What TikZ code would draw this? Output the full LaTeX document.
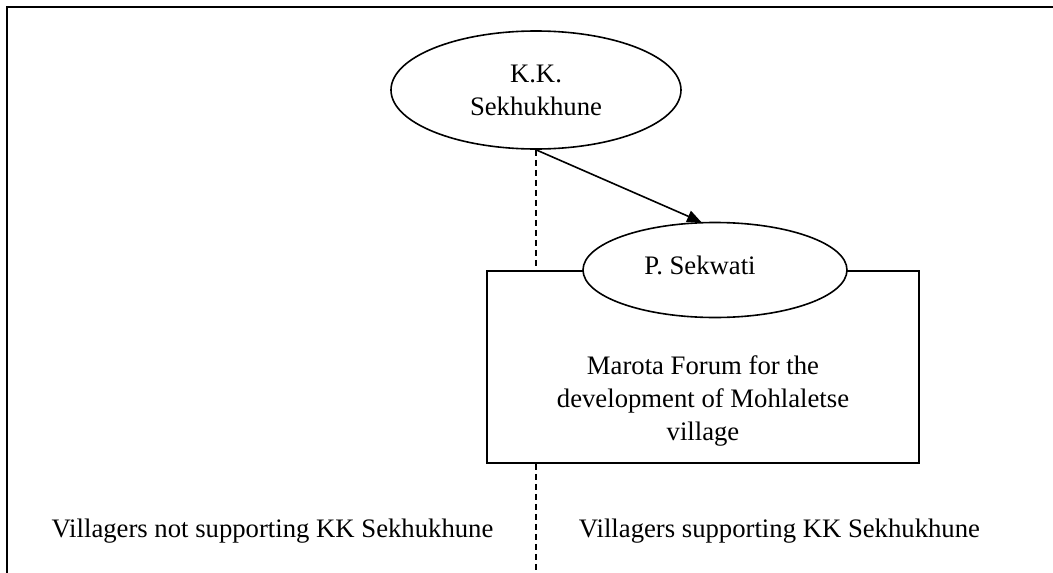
\documentclass[tikz,border=0pt]{standalone}
\usepackage{fontspec}
\setmainfont{Liberation Serif}
\usetikzlibrary{shapes.geometric,arrows.meta}
\begin{document}
\begin{tikzpicture}[x=1pt,y=-1pt,
  every node/.style={font=\fontsize{26.7}{33}\selectfont, align=center, inner sep=0pt},
  oval/.style={ellipse, draw, line width=1.6pt, fill=white},
  forum/.style={rectangle, draw, line width=1.6pt, fill=white},
  divider/.style={line width=1.2pt, dash pattern=on 6pt off 4pt},
  link/.style={line width=1.6pt, -{Triangle[length=14pt,width=12pt]}},
  frame/.style={line width=2.2pt}]
\useasboundingbox (0,0) rectangle (1053,573);
\coordinate (fbl) at (7,573);
\coordinate (ftl) at (7,7);
\coordinate (ftr) at (1053,7);
\draw[frame] (fbl) -- (ftl) -- (ftr);
\node[oval, minimum width=290pt, minimum height=118pt] (kk) at (536,90) {K.K.\\Sekhukhune};
\node[forum, minimum width=432pt, minimum height=192pt] (box) at (703,367) {};
\node[oval, minimum width=264pt, minimum height=95pt] (psek) at (715,270) {\raisebox{9pt}{\hspace*{-30pt}P. Sekwati}};
\node (forumtext) at (703,401) {Marota Forum for the\\development of Mohlaletse\\village};
\coordinate (boxtop) at (kk.south |- box.north);
\coordinate (boxbot) at (kk.south |- box.south);
\coordinate (bottom) at (kk.south |- 0,573);
\draw[divider] (kk.south) -- (boxtop);
\draw[divider] (boxbot) -- (bottom);
\draw[link] (kk.south) -- (psek.106);
\node (notsup) at (272.5,531) {Villagers not supporting KK Sekhukhune};
\node (sup) at (779.5,531) {Villagers supporting KK Sekhukhune};
\end{tikzpicture}
\end{document}
